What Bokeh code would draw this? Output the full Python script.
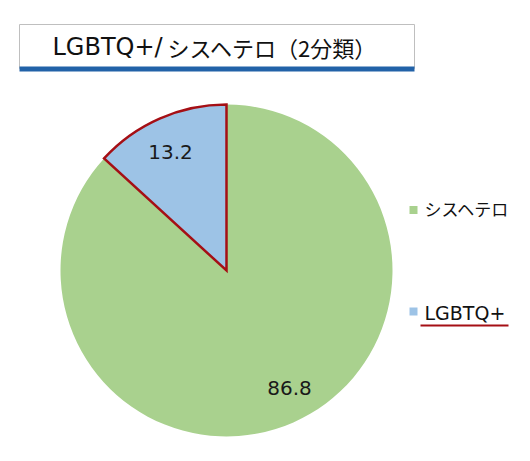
from math import pi
from bokeh.plotting import figure
from bokeh.models import Range1d
from bokeh.core.properties import value
from bokeh.embed import file_html
from bokeh.resources import INLINE

categories = ["LGBTQ+", "シスヘテロ"]
values = [13.2, 86.8]
colors = ["#9dc3e6", "#a9d18e"]
legend_order = ["シスヘテロ", "LGBTQ+"]
title_latin = "LGBTQ+/"
title_jp = "シスヘテロ（2分類）"

W, H = 514, 445
p = figure(width=W, height=H, output_backend="svg", toolbar_location=None,
           x_range=Range1d(0, W), y_range=Range1d(461 - H, 461), min_border=0)
p.axis.visible = False
p.grid.visible = False
p.outline_line_color = None
p.background_fill_color = "white"

def Y(img_y):
    return 461 - img_y

LATIN = value("DejaVu Sans")
JP = value("Noto Sans CJK JP")

# title box
p.quad(left=19, right=414, top=Y(24), bottom=Y(68), fill_color="white",
       line_color="#bfbfbf", line_width=1)
p.quad(left=19, right=414, top=Y(66), bottom=Y(71), fill_color="#2262a8",
       line_color=None)
p.text(x=[52], y=[Y(46)], text=[title_latin], text_font=LATIN,
       text_font_size="24px", text_baseline="middle", text_align="left",
       text_color="#111111")
p.text(x=[167], y=[Y(46)], text=[title_jp], text_font=JP,
       text_font_size="22px", text_baseline="middle", text_align="left",
       text_color="#111111")

# pie
cx, cy, r = 226, Y(270), 166
total = sum(values)
starts, ends = [], []
a = pi / 2
for v in values:
    starts.append(a)
    a = a + v / total * 2 * pi
    ends.append(a)

p.wedge(x=cx, y=cy, radius=r, start_angle=starts[1], end_angle=ends[1],
        fill_color=colors[1], line_color=None)
p.wedge(x=cx, y=cy, radius=r, start_angle=starts[0], end_angle=ends[0],
        fill_color=colors[0], line_color="#a50f15", line_width=2.5,
        line_join="miter")

# data labels
p.text(x=[170], y=[Y(151)], text=[f"{values[0]:.1f}"], text_font=LATIN,
       text_font_size="20px", text_align="center", text_baseline="middle",
       text_color="#1a1a1a")
p.text(x=[289], y=[Y(387)], text=[f"{values[1]:.1f}"], text_font=LATIN,
       text_font_size="20px", text_align="center", text_baseline="middle",
       text_color="#1a1a1a")

# legend
p.rect(x=[413], y=[Y(209.5)], width=8, height=8, fill_color=colors[1], line_color=None)
p.text(x=[424], y=[Y(208)], text=[legend_order[0]], text_font=JP,
       text_font_size="17px", text_align="left", text_baseline="middle",
       text_color="#111111")
p.rect(x=[413], y=[Y(311)], width=8, height=8, fill_color=colors[0], line_color=None)
p.text(x=[424], y=[Y(312)], text=[legend_order[1]], text_font=LATIN,
       text_font_size="19px", text_align="left", text_baseline="middle",
       text_color="#111111")
p.segment(x0=[420], y0=[Y(325)], x1=[508], y1=[Y(325)], line_color="#a50f15",
          line_width=2)

open("out.html", "w").write(file_html(p, INLINE))
